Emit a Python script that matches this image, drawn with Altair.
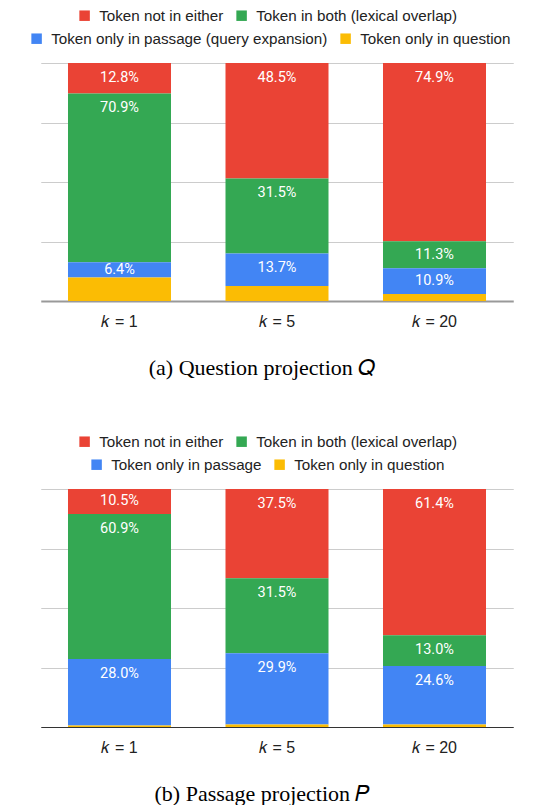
import altair as alt
import pandas as pd

# ---- data ----
k_labels = ["𝑘 = 1", "𝑘 = 5", "𝑘 = 20"]

q_cats = ["Token not in either", "Token in both (lexical overlap)",
          "Token only in passage (query expansion)", "Token only in question"]
q_not_either = [12.8, 48.5, 74.9]
q_both = [70.9, 31.5, 11.3]
q_passage = [6.4, 13.7, 10.9]
q_question = [9.9, 6.3, 2.9]

p_cats = ["Token not in either", "Token in both (lexical overlap)",
          "Token only in passage", "Token only in question"]
p_not_either = [10.5, 37.5, 61.4]
p_both = [60.9, 31.5, 13.0]
p_passage = [28.0, 29.9, 24.6]
p_question = [0.6, 1.1, 1.0]

colors = ["#EA4335", "#34A853", "#4285F4", "#FBBC04"]

LEG_FONT = "Liberation Sans"


def panel(cats, series, caption, lx1, lx2, base_color, base_width):
    rows = []
    for i, k in enumerate(k_labels):
        for j, cat in enumerate(cats):
            rows.append({"k": k, "cat": cat, "order": 3 - j, "value": series[j][i]})
    df = pd.DataFrame(rows)

    base = alt.Chart(df).transform_stack(
        stack="value", groupby=["k"], sort=[alt.SortField("order")], as_=["y0", "y1"]
    )

    x = alt.X(
        "k:N", sort=k_labels,
        scale=alt.Scale(range=[27.75, 500.25], paddingInner=0.346, paddingOuter=0.173),
        axis=alt.Axis(title=None, labelAngle=0, domain=False, ticks=False,
                      labelFontSize=16, labelFont=LEG_FONT, labelColor="#222222",
                      labelPadding=12),
    )
    y = alt.Y(
        "y0:Q", scale=alt.Scale(domain=[0, 100]),
        axis=alt.Axis(title=None, labels=False, ticks=False, domain=False,
                      values=[0, 25, 50, 75, 100],
                      gridColor={"condition": {"test": "datum.value === 0", "value": base_color},
                                 "value": "#cccccc"},
                      gridWidth={"condition": {"test": "datum.value === 0", "value": base_width},
                                 "value": 1}),
    )

    def leg(lx, ly):
        return alt.Legend(orient="none", legendX=lx, legendY=ly, direction="horizontal",
                          title=None, symbolType="square", symbolSize=110,
                          symbolStrokeWidth=0, labelFontSize=15.2, labelFont=LEG_FONT,
                          labelColor="#222222", columnPadding=10, labelOffset=7,
                          labelLimit=400)

    top = base.transform_filter(
        alt.FieldOneOfPredicate(field="cat", oneOf=cats[:2])
    ).mark_bar().encode(
        x=x, y=y, y2="y1:Q",
        color=alt.Color("cat:N", sort=cats[:2],
                        scale=alt.Scale(domain=cats[:2], range=colors[:2]),
                        legend=leg(lx1, -55)),
    )
    bottom = base.transform_filter(
        alt.FieldOneOfPredicate(field="cat", oneOf=cats[2:])
    ).mark_bar().encode(
        x=x, y=y, y2="y1:Q",
        fill=alt.Fill("cat:N", sort=cats[2:],
                      scale=alt.Scale(domain=cats[2:], range=colors[2:]),
                      legend=leg(lx2, -32)),
    )
    labels = base.transform_filter(
        alt.datum.cat != cats[3]
    ).transform_calculate(
        pos="datum.y1 - min(6.3, datum.value / 2)",
        label="format(datum.value, '.1f') + '%'",
    ).mark_text(color="white", font="Roboto", fontSize=14.5, baseline="middle").encode(
        x=alt.X("k:N", sort=k_labels),
        y=alt.Y("pos:Q"),
        text="label:N",
    )
    return alt.layer(top, bottom, labels).properties(
        width=512, height=238,
        title=alt.Title(caption, orient="bottom", font="Liberation Serif", fontSize=22,
                        fontWeight="normal", color="black", offset=29, dx=-7),
    ).resolve_scale(color="independent", fill="independent")


c1 = panel(q_cats, [q_not_either, q_both, q_passage, q_question],
           "(a) Question projection 𝑄", 64, 16, "#999999", 2)
c2 = panel(p_cats, [p_not_either, p_both, p_passage, p_question],
           "(b) Passage projection 𝑃", 64, 76, "#333333", 1)

chart = alt.vconcat(c1, c2, spacing=55).resolve_scale(
    color="independent", fill="independent"
).resolve_legend(color="independent", fill="independent").properties(
    padding={"left": 5, "top": 0, "right": 0, "bottom": 0}
).configure_view(stroke=None)

chart.save("out.html", embed_options={"renderer": "svg", "actions": False})
